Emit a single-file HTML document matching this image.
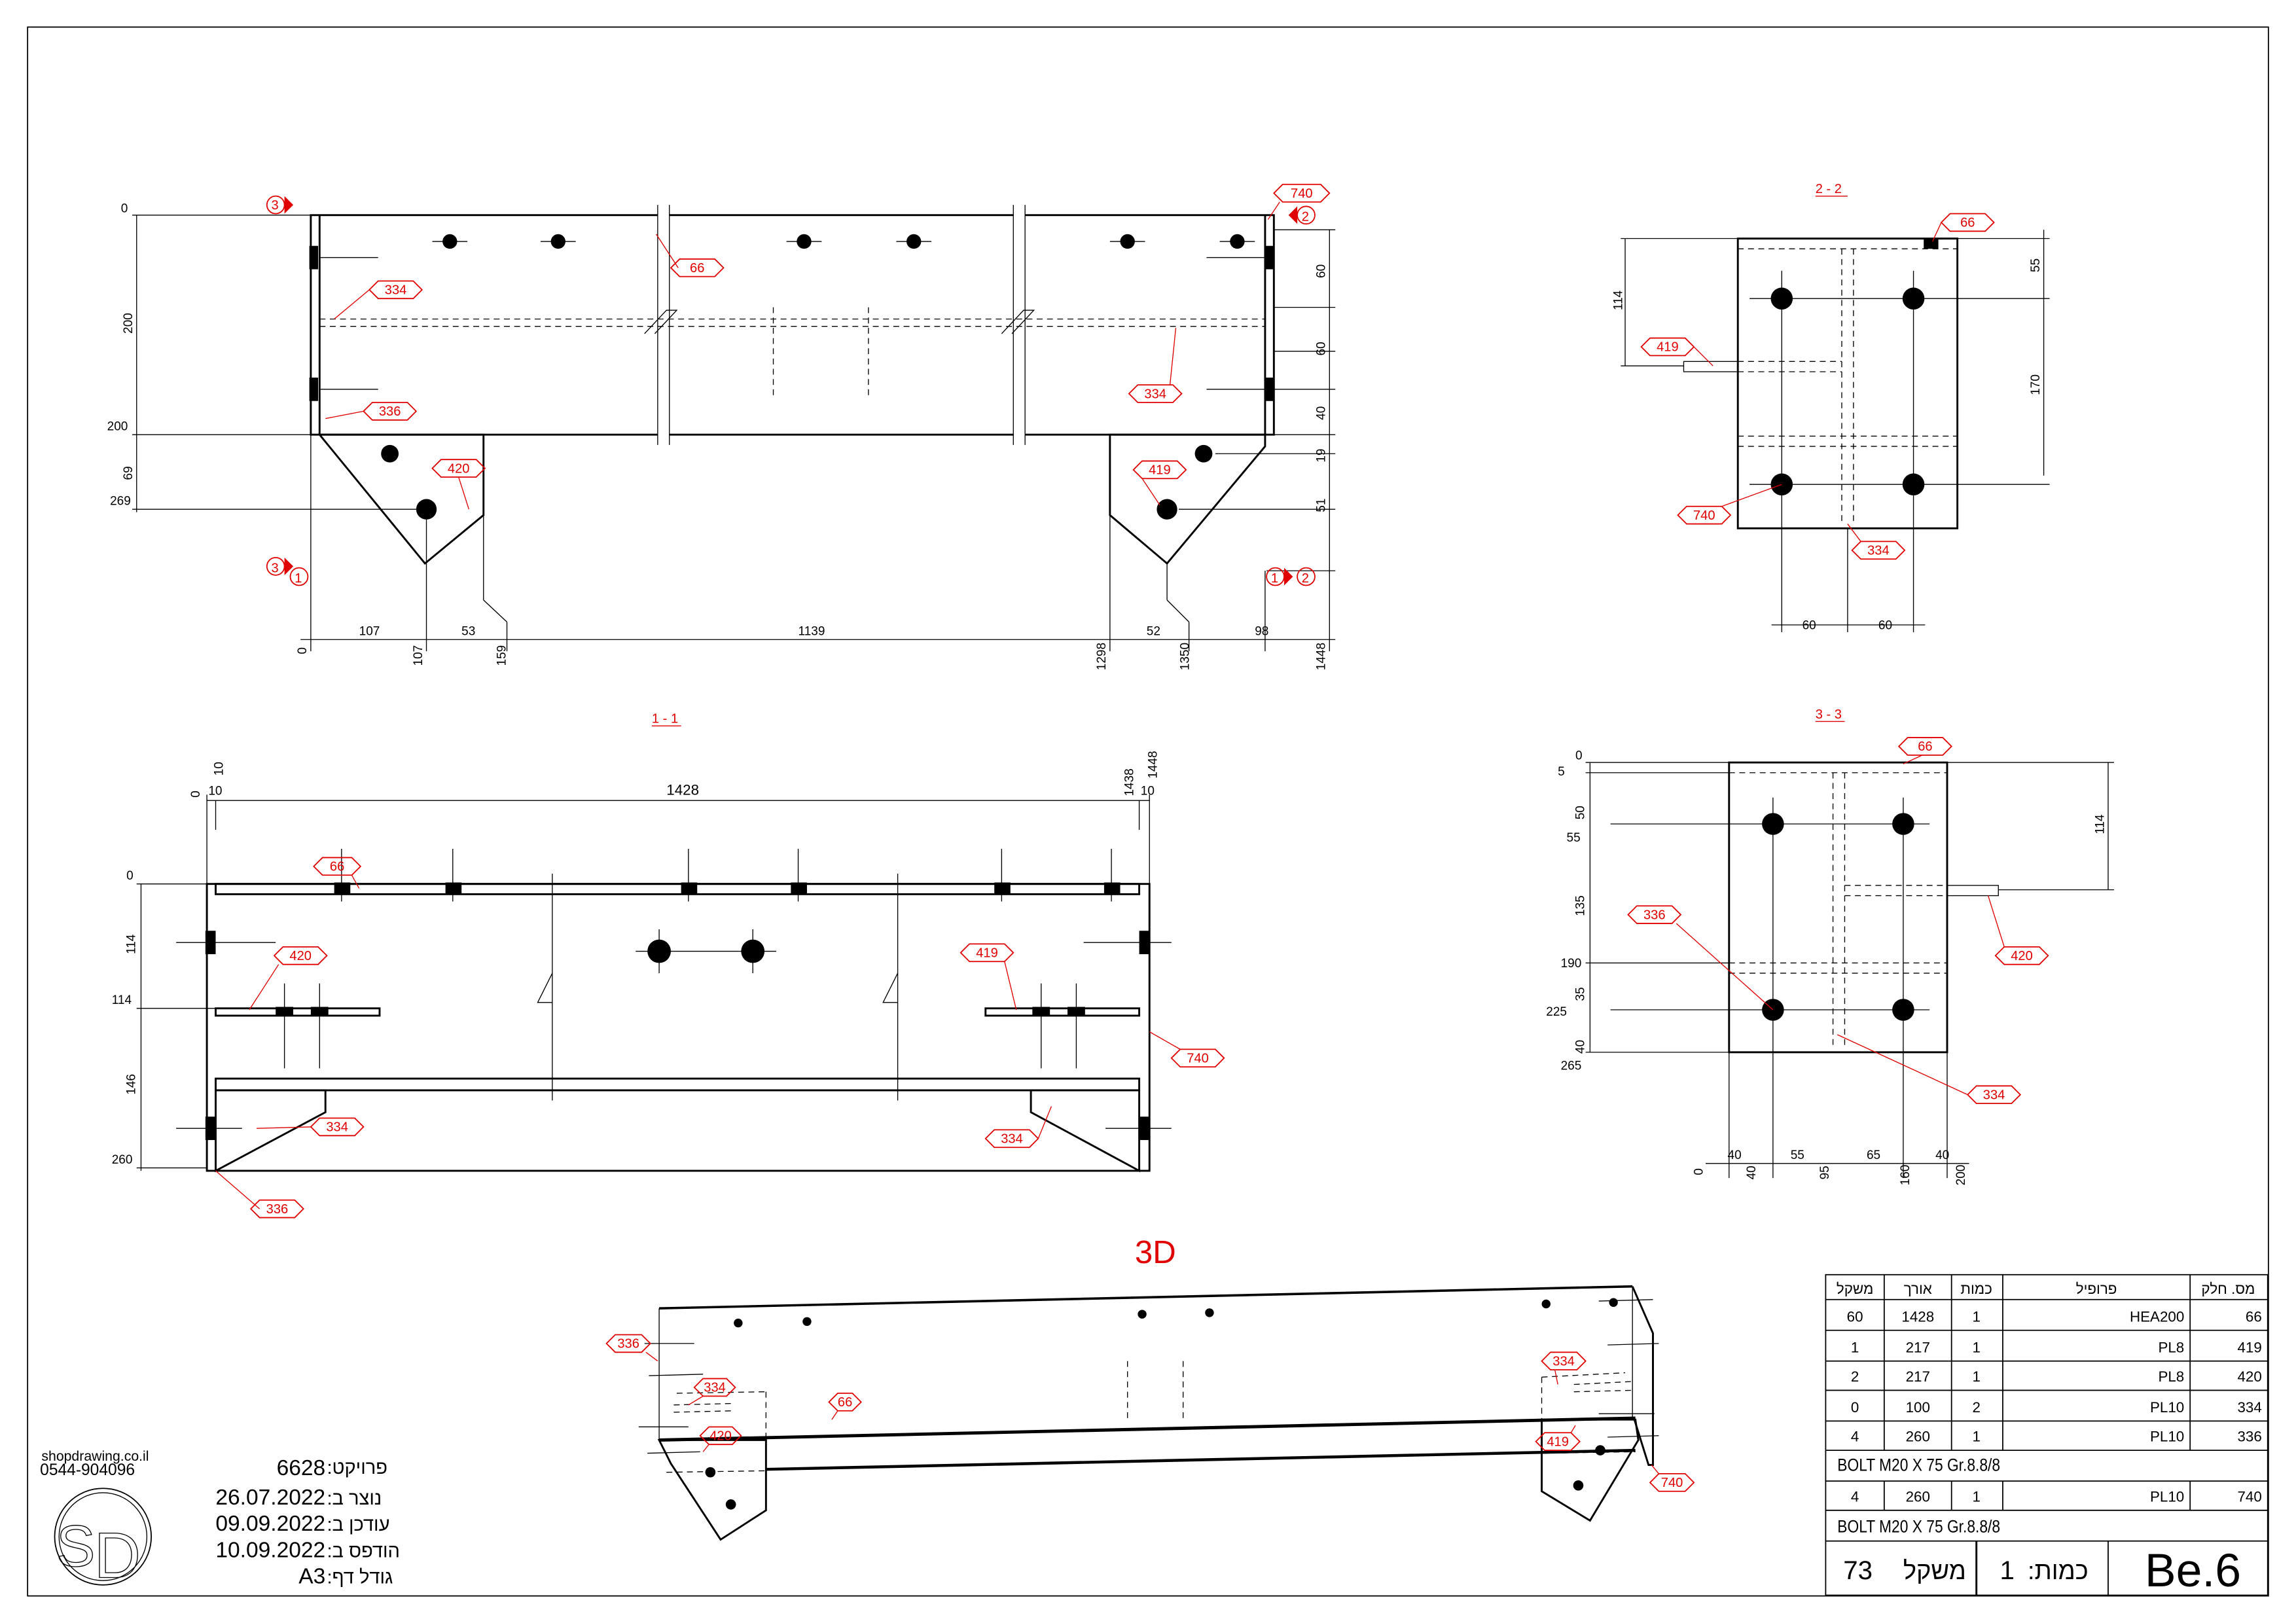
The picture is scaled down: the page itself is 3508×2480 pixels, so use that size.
<!DOCTYPE html>
<html><head><meta charset="utf-8"><style>
html,body{margin:0;padding:0;background:#fff}
svg{display:block}
text{font-family:"Liberation Sans","Noto Sans CJK SC",sans-serif}
.d{font-size:8.5px;fill:#000}
.r{font-size:9px;fill:#e00000}
.t{fill:none;stroke:#e00000;stroke-width:0.8}
.l{stroke:#000;stroke-width:1.3;fill:none}
.th{stroke:#000;stroke-width:0.6;fill:none}
.ds{stroke:#000;stroke-width:0.6;fill:none;stroke-dasharray:4 3}
.rl{stroke:#e00000;stroke-width:0.6;fill:none}
</style></head><body>
<svg width="3508" height="2480" viewBox="0 0 1568 1109" xmlns="http://www.w3.org/2000/svg">
<rect x="18.5" y="18.5" width="1531" height="1072" fill="none" stroke="#000" stroke-width="0.8"/>

<!-- ===== TOP VIEW ===== -->
<g>
<rect x="212" y="147" width="658" height="150" class="l"/>
<line x1="218" y1="147" x2="218" y2="297" class="l"/>
<line x1="864" y1="147" x2="864" y2="297" class="l"/>
<rect x="211" y="168" width="6" height="16" fill="#000"/><rect x="211" y="258" width="6" height="16" fill="#000"/>
<rect x="864" y="168" width="6" height="16" fill="#000"/><rect x="864" y="258" width="6" height="16" fill="#000"/>
<rect x="449" y="140" width="8" height="164" fill="#fff"/><line x1="449" y1="140" x2="449" y2="304" class="th"/><line x1="457" y1="140" x2="457" y2="304" class="th"/>
<rect x="692" y="140" width="8" height="164" fill="#fff"/><line x1="692" y1="140" x2="692" y2="304" class="th"/><line x1="700" y1="140" x2="700" y2="304" class="th"/>
<line x1="218" y1="218" x2="864" y2="218" class="ds"/><line x1="218" y1="223" x2="864" y2="223" class="ds"/>
<polyline points="440,228 455,212 462,212 447,228" class="th"/>
<polyline points="684,228 699,212 706,212 691,228" class="th"/>
<line x1="528" y1="210" x2="528" y2="272" class="ds"/><line x1="593" y1="210" x2="593" y2="272" class="ds"/>
<g fill="#000"><circle cx="307" cy="165" r="5"/><circle cx="381" cy="165" r="5"/><circle cx="549" cy="165" r="5"/><circle cx="624" cy="165" r="5"/><circle cx="770" cy="165" r="5"/><circle cx="845" cy="165" r="5"/></g>
<g class="th"><line x1="295" y1="165" x2="319" y2="165"/><line x1="369" y1="165" x2="393" y2="165"/><line x1="537" y1="165" x2="561" y2="165"/><line x1="612" y1="165" x2="636" y2="165"/><line x1="758" y1="165" x2="782" y2="165"/><line x1="833" y1="165" x2="857" y2="165"/>
<line x1="824" y1="176" x2="864" y2="176"/><line x1="218" y1="176" x2="258" y2="176"/><line x1="218" y1="266" x2="258" y2="266"/><line x1="824" y1="266" x2="864" y2="266"/></g>
<polygon points="218,297 330,297 330,352 290,385" class="l"/>
<polygon points="758,297 864,297 864,305 797,385 758,352" class="l"/>
<g fill="#000"><circle cx="266" cy="310" r="6"/><circle cx="291" cy="348" r="7"/><circle cx="822" cy="310" r="6"/><circle cx="797" cy="348" r="7"/></g>
<!-- dims -->
<g class="th">
<line x1="93" y1="147" x2="93" y2="350"/><line x1="90" y1="147" x2="212" y2="147"/><line x1="90" y1="297" x2="212" y2="297"/><line x1="90" y1="348" x2="291" y2="348"/>
<line x1="205" y1="437" x2="912" y2="437"/>
<line x1="212" y1="297" x2="212" y2="445"/><line x1="291" y1="348" x2="291" y2="445"/><line x1="330" y1="352" x2="330" y2="410"/><line x1="330" y1="410" x2="346" y2="425"/><line x1="346" y1="425" x2="346" y2="445"/>
<line x1="758" y1="352" x2="758" y2="445"/><line x1="797" y1="385" x2="797" y2="410"/><line x1="797" y1="410" x2="812" y2="425"/><line x1="812" y1="425" x2="812" y2="445"/><line x1="864" y1="390" x2="864" y2="445"/><line x1="908" y1="390" x2="908" y2="445"/>
<line x1="908" y1="157" x2="908" y2="392"/>
<line x1="870" y1="157" x2="912" y2="157"/><line x1="870" y1="210" x2="912" y2="210"/><line x1="870" y1="240" x2="912" y2="240"/><line x1="870" y1="266" x2="912" y2="266"/><line x1="870" y1="297" x2="912" y2="297"/><line x1="830" y1="310" x2="912" y2="310"/><line x1="805" y1="348" x2="912" y2="348"/><line x1="865" y1="390" x2="912" y2="390"/>
</g>
<g class="d">
<text x="87" y="145" text-anchor="end">0</text><text transform="translate(90,228) rotate(-90)">200</text>
<text x="87" y="294" text-anchor="end">200</text><text transform="translate(90,328) rotate(-90)">69</text><text x="89" y="345" text-anchor="end">269</text>
<text x="245" y="434">107</text><text x="315" y="434">53</text><text x="545" y="434">1139</text><text x="783" y="434">52</text><text x="857" y="434">98</text>
<text transform="translate(209,447) rotate(-90)">0</text><text transform="translate(288,455) rotate(-90)">107</text><text transform="translate(345,455) rotate(-90)">159</text>
<text transform="translate(755,458) rotate(-90)">1298</text><text transform="translate(812,458) rotate(-90)">1350</text><text transform="translate(905,458) rotate(-90)">1448</text>
<text transform="translate(905,190) rotate(-90)">60</text><text transform="translate(905,243) rotate(-90)">60</text><text transform="translate(905,287) rotate(-90)">40</text><text transform="translate(905,316) rotate(-90)">19</text><text transform="translate(905,350) rotate(-90)">51</text>
</g>
<!-- section marks -->
<g class="r"><text x="185" y="143">3</text><text x="185" y="391">3</text><text x="201" y="398">1</text><text x="868" y="398">1</text><text x="889" y="151">2</text><text x="889" y="398">2</text></g>
<g class="t"><circle cx="188" cy="140" r="6"/><circle cx="188" cy="387" r="6"/><circle cx="204" cy="394" r="6"/><circle cx="871" cy="394" r="6"/><circle cx="892" cy="147" r="6"/><circle cx="892" cy="394" r="6"/></g>
<g fill="#e00000"><polygon points="194,134 200,140 194,146"/><polygon points="194,381 200,387 194,393"/><polygon points="886,141 880,147 886,153"/><polygon points="877,388 883,394 877,400"/></g>
</g>

<!-- ===== SECTION 2-2 ===== -->
<g>
<text x="1240" y="132" class="r">2 - 2</text><line x1="1240" y1="134" x2="1262" y2="134" class="rl"/>
<rect x="1187" y="163" width="150" height="198" class="l"/>
<line x1="1187" y1="170" x2="1337" y2="170" class="ds"/><line x1="1187" y1="298" x2="1337" y2="298" class="ds"/><line x1="1187" y1="305" x2="1337" y2="305" class="ds"/>
<line x1="1258" y1="170" x2="1258" y2="358" class="ds"/><line x1="1266" y1="170" x2="1266" y2="358" class="ds"/>
<line x1="1187" y1="247" x2="1258" y2="247" class="ds"/><line x1="1187" y1="254" x2="1258" y2="254" class="ds"/>
<rect x="1150" y="247" width="37" height="7" class="th"/>
<rect x="1314" y="163" width="10" height="7" fill="#000"/>
<g fill="#000"><circle cx="1217" cy="204" r="7.5"/><circle cx="1307" cy="204" r="7.5"/><circle cx="1217" cy="331" r="7.5"/><circle cx="1307" cy="331" r="7.5"/></g>
<g class="th"><line x1="1195" y1="204" x2="1400" y2="204"/><line x1="1195" y1="331" x2="1400" y2="331"/><line x1="1217" y1="185" x2="1217" y2="432"/><line x1="1307" y1="185" x2="1307" y2="432"/><line x1="1262" y1="361" x2="1262" y2="432"/>
<line x1="1110" y1="163" x2="1110" y2="250"/><line x1="1107" y1="163" x2="1187" y2="163"/><line x1="1107" y1="250" x2="1150" y2="250"/>
<line x1="1396" y1="157" x2="1396" y2="325"/><line x1="1337" y1="163" x2="1400" y2="163"/>
<line x1="1210" y1="427" x2="1315" y2="427"/></g>
<g class="d"><text transform="translate(1108,212) rotate(-90)">114</text><text transform="translate(1393,186) rotate(-90)">55</text><text transform="translate(1393,270) rotate(-90)">170</text><text x="1231" y="430">60</text><text x="1283" y="430">60</text></g>
</g>

<!-- ===== SECTION 1-1 ===== -->
<g>
<text x="445" y="494" class="r">1 - 1</text><line x1="445" y1="496" x2="465" y2="496" class="rl"/>
<rect x="141" y="604" width="644" height="196" class="l"/>
<rect x="147" y="604" width="631" height="7" class="l"/>
<rect x="147" y="737" width="631" height="8" class="l"/>
<rect x="377" y="612" width="236" height="124" fill="#fff"/>
<line x1="377" y1="597" x2="377" y2="752" class="th"/><polyline points="377,665 367,685 377,685" class="th"/>
<line x1="613" y1="597" x2="613" y2="752" class="th"/><polyline points="613,665 603,685 613,685" class="th"/>
<g fill="#000"><rect x="228" y="603" width="11" height="8"/><rect x="304" y="603" width="11" height="8"/><rect x="465" y="603" width="11" height="8"/><rect x="540" y="603" width="11" height="8"/><rect x="679" y="603" width="11" height="8"/><rect x="754" y="603" width="11" height="8"/>
<rect x="140" y="636" width="7" height="16"/><rect x="140" y="763" width="7" height="16"/><rect x="778" y="636" width="7" height="16"/><rect x="778" y="763" width="7" height="16"/>
<circle cx="450" cy="650" r="8"/><circle cx="514" cy="650" r="8"/>
<rect x="188" y="688" width="12" height="6"/><rect x="212" y="688" width="12" height="6"/><rect x="705" y="688" width="12" height="6"/><rect x="729" y="688" width="12" height="6"/></g>
<g class="th"><line x1="233" y1="580" x2="233" y2="616"/><line x1="309" y1="580" x2="309" y2="616"/><line x1="470" y1="580" x2="470" y2="616"/><line x1="545" y1="580" x2="545" y2="616"/><line x1="684" y1="580" x2="684" y2="616"/><line x1="759" y1="580" x2="759" y2="616"/>
<line x1="434" y1="650" x2="530" y2="650"/><line x1="450" y1="635" x2="450" y2="665"/><line x1="514" y1="635" x2="514" y2="665"/>
<line x1="120" y1="644" x2="188" y2="644"/><line x1="120" y1="771" x2="165" y2="771"/><line x1="740" y1="644" x2="800" y2="644"/><line x1="755" y1="771" x2="800" y2="771"/>
<line x1="194" y1="672" x2="194" y2="730"/><line x1="218" y1="672" x2="218" y2="730"/><line x1="711" y1="672" x2="711" y2="730"/><line x1="735" y1="672" x2="735" y2="730"/></g>
<rect x="147" y="689" width="112" height="5" class="l"/>
<rect x="673" y="689" width="105" height="5" class="l"/>
<polygon points="147,745 222,745 222,760 147,800" class="l"/>
<polygon points="704,745 778,745 778,800 704,760" class="l"/>
<!-- dims -->
<g class="th"><line x1="141" y1="547" x2="785" y2="547"/><line x1="141" y1="543" x2="141" y2="604"/><line x1="147" y1="547" x2="147" y2="567"/><line x1="778" y1="547" x2="778" y2="567"/><line x1="785" y1="543" x2="785" y2="604"/>
<line x1="96" y1="604" x2="96" y2="800"/><line x1="93" y1="604" x2="141" y2="604"/><line x1="93" y1="689" x2="147" y2="689"/><line x1="93" y1="798" x2="141" y2="798"/></g>
<g class="d"><text transform="translate(136,545) rotate(-90)">0</text><text transform="translate(152,530) rotate(-90)">10</text><text x="142" y="543">10</text><text x="455" y="543" font-size="10">1428</text>
<text transform="translate(774,544) rotate(-90)">1438</text><text transform="translate(790,532) rotate(-90)">1448</text><text x="779" y="543">10</text>
<text x="86" y="601">0</text><text transform="translate(92,652) rotate(-90)">114</text><text x="76" y="686">114</text><text transform="translate(92,748) rotate(-90)">146</text><text x="76" y="795">260</text></g>
</g>

<!-- ===== SECTION 3-3 ===== -->
<g>
<text x="1240" y="491" class="r">3 - 3</text><line x1="1240" y1="493" x2="1260" y2="493" class="rl"/>
<rect x="1181" y="521" width="149" height="198" class="l"/>
<line x1="1181" y1="528" x2="1330" y2="528" class="ds"/><line x1="1181" y1="658" x2="1330" y2="658" class="ds"/><line x1="1181" y1="665" x2="1330" y2="665" class="ds"/>
<line x1="1252" y1="528" x2="1252" y2="716" class="ds"/><line x1="1260" y1="528" x2="1260" y2="716" class="ds"/>
<line x1="1260" y1="605" x2="1330" y2="605" class="ds"/><line x1="1260" y1="612" x2="1330" y2="612" class="ds"/>
<rect x="1330" y="605" width="35" height="7" class="th"/>
<g fill="#000"><circle cx="1211" cy="563" r="7.5"/><circle cx="1300" cy="563" r="7.5"/><circle cx="1211" cy="690" r="7.5"/><circle cx="1300" cy="690" r="7.5"/></g>
<g class="th"><line x1="1100" y1="563" x2="1318" y2="563"/><line x1="1100" y1="690" x2="1318" y2="690"/><line x1="1211" y1="545" x2="1211" y2="805"/><line x1="1300" y1="545" x2="1300" y2="805"/>
<line x1="1181" y1="719" x2="1181" y2="805"/><line x1="1330" y1="719" x2="1330" y2="805"/>
<line x1="1086" y1="521" x2="1086" y2="719"/><line x1="1083" y1="521" x2="1181" y2="521"/><line x1="1083" y1="528" x2="1181" y2="528"/><line x1="1083" y1="658" x2="1181" y2="658"/><line x1="1083" y1="719" x2="1181" y2="719"/>
<line x1="1440" y1="521" x2="1440" y2="608"/><line x1="1330" y1="521" x2="1444" y2="521"/><line x1="1365" y1="608" x2="1444" y2="608"/>
<line x1="1165" y1="795" x2="1345" y2="795"/></g>
<g class="d"><text x="1076" y="519">0</text><text x="1064" y="530">5</text><text transform="translate(1082,560) rotate(-90)">50</text><text x="1070" y="575">55</text><text transform="translate(1082,626) rotate(-90)">135</text><text x="1066" y="661">190</text><text transform="translate(1082,684) rotate(-90)">35</text><text x="1056" y="694">225</text><text transform="translate(1082,720) rotate(-90)">40</text><text x="1066" y="731">265</text>
<text transform="translate(1437,570) rotate(-90)">114</text>
<text x="1180" y="792">40</text><text x="1223" y="792">55</text><text x="1275" y="792">65</text><text x="1322" y="792">40</text>
<text transform="translate(1163,803) rotate(-90)">0</text><text transform="translate(1199,806) rotate(-90)">40</text><text transform="translate(1249,806) rotate(-90)">95</text><text transform="translate(1304,810) rotate(-90)">160</text><text transform="translate(1342,810) rotate(-90)">200</text></g>
</g>

<!-- ===== 3D ===== -->
<g>
<text x="775" y="863" font-size="22" fill="#e00000">3D</text>
<line x1="450" y1="894" x2="1115" y2="879" stroke="#000" stroke-width="1.6"/>
<line x1="450" y1="894" x2="450" y2="984" class="th"/>
<line x1="1115" y1="879" x2="1115" y2="969" class="th"/>
<line x1="450" y1="984" x2="1117" y2="969" stroke="#000" stroke-width="2.2"/>
<line x1="523" y1="1004" x2="1117" y2="991" stroke="#000" stroke-width="2"/>
<polyline points="1115,879 1129,911 1129,1001 1126,1001 1116,969" class="l"/>
<polygon points="450,984 523,984 523,1032 492,1052 458,1000" class="l"/>
<polygon points="1053,970 1053,1019 1086,1039 1119,984 1117,970" class="l"/>
<g class="ds"><line x1="462" y1="952" x2="523" y2="951"/><line x1="523" y1="951" x2="523" y2="984"/><line x1="1053" y1="941" x2="1110" y2="938"/><line x1="1053" y1="941" x2="1053" y2="970"/><line x1="770" y1="930" x2="770" y2="970"/><line x1="808" y1="930" x2="808" y2="970"/>
<line x1="460" y1="960" x2="500" y2="959"/><line x1="460" y1="965" x2="500" y2="964"/><line x1="1075" y1="946" x2="1115" y2="944"/><line x1="1075" y1="951" x2="1115" y2="950"/>
<line x1="455" y1="1006" x2="523" y2="1005"/><line x1="1053" y1="993" x2="1117" y2="992"/></g>
<g class="th"><line x1="440" y1="918" x2="474" y2="918"/><line x1="443" y1="940" x2="480" y2="939"/><line x1="436" y1="975" x2="470" y2="975"/><line x1="442" y1="993" x2="478" y2="992"/>
<line x1="1092" y1="889" x2="1129" y2="888"/><line x1="1098" y1="919" x2="1133" y2="918"/><line x1="1092" y1="966" x2="1130" y2="966"/><line x1="1098" y1="982" x2="1133" y2="981"/></g>
<g fill="#000"><circle cx="504" cy="904" r="3"/><circle cx="551" cy="903" r="3"/><circle cx="780" cy="898" r="3"/><circle cx="826" cy="897" r="3"/><circle cx="1056" cy="891" r="3"/><circle cx="1102" cy="890" r="3"/><circle cx="485" cy="1006" r="3.5"/><circle cx="499" cy="1028" r="3.5"/><circle cx="1093" cy="991" r="3.5"/><circle cx="1078" cy="1015" r="3.5"/></g>
</g>

<!-- ===== RED TAGS ===== -->
<g class="t">
<polygon points="870,132 876,126 902,126 908,132 902,138 876,138"/>
<polygon points="458,183 464,177 488,177 494,183 488,189 464,189"/>
<polygon points="252,198 258,192 282,192 288,198 282,204 258,204"/>
<polygon points="248,281 254,275 278,275 284,281 278,287 254,287"/>
<polygon points="295,320 301,314 325,314 331,320 325,326 301,326"/>
<polygon points="771,269 777,263 801,263 807,269 801,275 777,275"/>
<polygon points="774,321 780,315 804,315 810,321 804,327 780,327"/>
<polygon points="1326,152 1332,146 1356,146 1362,152 1356,158 1332,158"/>
<polygon points="1121,237 1127,231 1151,231 1157,237 1151,243 1127,243"/>
<polygon points="1146,352 1152,346 1176,346 1182,352 1176,358 1152,358"/>
<polygon points="1265,376 1271,370 1295,370 1301,376 1295,382 1271,382"/>
<polygon points="214,592 220,586 240,586 246,592 240,598 220,598"/>
<polygon points="187,653 193,647 217,647 223,653 217,659 193,659"/>
<polygon points="656,651 662,645 686,645 692,651 686,657 662,657"/>
<polygon points="800,723 806,717 830,717 836,723 830,729 806,729"/>
<polygon points="212,770 218,764 242,764 248,770 242,776 218,776"/>
<polygon points="673,778 679,772 703,772 709,778 703,784 679,784"/>
<polygon points="171,826 177,820 201,820 207,826 201,832 177,832"/>
<polygon points="1297,510 1303,504 1327,504 1333,510 1327,516 1303,516"/>
<polygon points="1112,625 1118,619 1142,619 1148,625 1142,631 1118,631"/>
<polygon points="1363,653 1369,647 1393,647 1399,653 1393,659 1369,659"/>
<polygon points="1344,748 1350,742 1374,742 1380,748 1374,754 1350,754"/>
<polygon points="414,918 420,912 438,912 444,918 438,924 420,924"/>
<polygon points="474,948 480,942 496,942 502,948 496,954 480,954"/>
<polygon points="566,958 572,952 582,952 588,958 582,964 572,964"/>
<polygon points="478,981 484,975 500,975 506,981 500,987 484,987"/>
<polygon points="1053,930 1059,924 1077,924 1083,930 1077,936 1059,936"/>
<polygon points="1049,985 1055,979 1073,979 1079,985 1073,991 1055,991"/>
<polygon points="1127,1013 1133,1007 1151,1007 1157,1013 1151,1019 1133,1019"/>
</g>
<g class="rl">
<line x1="874" y1="138" x2="866" y2="150"/><line x1="463" y1="183" x2="448" y2="160"/><line x1="252" y1="198" x2="228" y2="218"/><line x1="248" y1="281" x2="222" y2="286"/><line x1="313" y1="326" x2="320" y2="348"/><line x1="799" y1="263" x2="803" y2="224"/><line x1="780" y1="327" x2="792" y2="345"/>
<line x1="1326" y1="152" x2="1320" y2="165"/><line x1="1157" y1="237" x2="1170" y2="250"/><line x1="1176" y1="346" x2="1217" y2="331"/><line x1="1271" y1="370" x2="1262" y2="358"/>
<line x1="240" y1="598" x2="245" y2="607"/><line x1="190" y1="659" x2="170" y2="690"/><line x1="686" y1="657" x2="694" y2="690"/><line x1="806" y1="717" x2="785" y2="705"/><line x1="212" y1="770" x2="175" y2="771"/><line x1="709" y1="778" x2="718" y2="756"/><line x1="177" y1="826" x2="147" y2="800"/>
<line x1="1313" y1="516" x2="1300" y2="522"/><line x1="1145" y1="631" x2="1211" y2="690"/><line x1="1369" y1="647" x2="1358" y2="612"/><line x1="1344" y1="748" x2="1255" y2="707"/>
<line x1="441" y1="924" x2="449" y2="930"/><line x1="480" y1="954" x2="470" y2="960"/><line x1="572" y1="964" x2="568" y2="970"/><line x1="484" y1="987" x2="480" y2="992"/><line x1="1062" y1="936" x2="1064" y2="946"/><line x1="1073" y1="979" x2="1076" y2="974"/><line x1="1133" y1="1007" x2="1128" y2="1001"/>
</g>
<g class="r" text-anchor="middle">
<text x="889" y="135">740</text><text x="476" y="186">66</text><text x="270" y="201">334</text><text x="266" y="284">336</text><text x="313" y="323">420</text><text x="789" y="272">334</text><text x="792" y="324">419</text>
<text x="1344" y="155">66</text><text x="1139" y="240">419</text><text x="1164" y="355">740</text><text x="1283" y="379">334</text>
<text x="230" y="595">66</text><text x="205" y="656">420</text><text x="674" y="654">419</text><text x="818" y="726">740</text><text x="230" y="773">334</text><text x="691" y="781">334</text><text x="189" y="829">336</text>
<text x="1315" y="513">66</text><text x="1130" y="628">336</text><text x="1381" y="656">420</text><text x="1362" y="751">334</text>
<text x="429" y="921">336</text><text x="488" y="951">334</text><text x="577" y="961">66</text><text x="492" y="984">420</text><text x="1068" y="933">334</text><text x="1064" y="988">419</text><text x="1142" y="1016">740</text>
</g>

<!-- ===== TABLE ===== -->
<g stroke="#000" stroke-width="0.8" fill="none">
<rect x="1247" y="871" width="302" height="219"/>
<line x1="1247" y1="888" x2="1549" y2="888"/><line x1="1247" y1="909" x2="1549" y2="909"/><line x1="1247" y1="930" x2="1549" y2="930"/><line x1="1247" y1="950" x2="1549" y2="950"/><line x1="1247" y1="971" x2="1549" y2="971"/><line x1="1247" y1="991" x2="1549" y2="991"/><line x1="1247" y1="1012" x2="1549" y2="1012"/><line x1="1247" y1="1032" x2="1549" y2="1032"/><line x1="1247" y1="1053" x2="1549" y2="1053"/>
<line x1="1287" y1="871" x2="1287" y2="991"/><line x1="1333" y1="871" x2="1333" y2="991"/><line x1="1368" y1="871" x2="1368" y2="991"/><line x1="1496" y1="871" x2="1496" y2="991"/>
<line x1="1287" y1="1012" x2="1287" y2="1032"/><line x1="1333" y1="1012" x2="1333" y2="1032"/><line x1="1368" y1="1012" x2="1368" y2="1032"/><line x1="1496" y1="1012" x2="1496" y2="1032"/>
<line x1="1350" y1="1053" x2="1350" y2="1090" stroke-width="1.3"/><line x1="1440" y1="1053" x2="1440" y2="1090"/>
</g>
<g font-size="10" fill="#000" font-family="Liberation Sans, 'Noto Sans CJK SC', sans-serif">
<g text-anchor="middle"><text x="1267" y="884">משקל</text><text x="1310" y="884">אורך</text><text x="1350" y="884">כמות</text><text x="1432" y="884">פרופיל</text><text x="1522" y="884">מס. חלק</text></g>
<g text-anchor="middle"><text x="1267" y="903">60</text><text x="1310" y="903">1428</text><text x="1350" y="903">1</text>
<text x="1267" y="924">1</text><text x="1310" y="924">217</text><text x="1350" y="924">1</text>
<text x="1267" y="944">2</text><text x="1310" y="944">217</text><text x="1350" y="944">1</text>
<text x="1267" y="965">0</text><text x="1310" y="965">100</text><text x="1350" y="965">2</text>
<text x="1267" y="985">4</text><text x="1310" y="985">260</text><text x="1350" y="985">1</text>
<text x="1267" y="1026">4</text><text x="1310" y="1026">260</text><text x="1350" y="1026">1</text></g>
<g text-anchor="end"><text x="1492" y="903">HEA200</text><text x="1545" y="903">66</text><text x="1492" y="924">PL8</text><text x="1545" y="924">419</text><text x="1492" y="944">PL8</text><text x="1545" y="944">420</text><text x="1492" y="965">PL10</text><text x="1545" y="965">334</text><text x="1492" y="985">PL10</text><text x="1545" y="985">336</text><text x="1492" y="1026">PL10</text><text x="1545" y="1026">740</text></g>
<text x="1255" y="1005" transform="translate(1255,0) scale(0.85,1) translate(-1255,0)" font-size="12">BOLT M20 X 75 Gr.8.8/8</text>
<text x="1255" y="1047" transform="translate(1255,0) scale(0.85,1) translate(-1255,0)" font-size="12">BOLT M20 X 75 Gr.8.8/8</text>
<text x="1259" y="1079" font-size="18">73</text><text x="1300" y="1079" font-size="17">משקל</text>
<text x="1366" y="1079" font-size="18">1</text><text x="1385" y="1079" font-size="17">:כמות</text>
<text x="1465" y="1084" font-size="32">Be.6</text>
</g>

<!-- ===== TITLE BLOCK ===== -->
<g fill="#000">
<text x="28" y="998" font-size="9.5">shopdrawing.co.il</text>
<text x="27" y="1008" font-size="11">0544-904096</text>
<circle cx="70" cy="1050" r="33" fill="none" stroke="#000" stroke-width="0.8"/>
<circle cx="70" cy="1050" r="30" fill="none" stroke="#000" stroke-width="0.6"/>
<text x="38" y="1070" font-size="40" font-family="Liberation Serif, serif" fill="none" stroke="#000" stroke-width="0.6">S</text>
<text x="64" y="1078" font-size="44" font-family="Liberation Serif, serif" fill="none" stroke="#000" stroke-width="0.6">D</text>
<g font-size="15" text-anchor="end">
<text x="222" y="1008">6628</text><text x="222" y="1028">26.07.2022</text><text x="222" y="1046">09.09.2022</text><text x="222" y="1064">10.09.2022</text><text x="222" y="1082">A3</text></g>
<g font-size="13"><text x="223" y="1007">:פרויקט</text><text x="223" y="1028">:נוצר ב</text><text x="223" y="1046">:עודכן ב</text><text x="223" y="1064">:הודפס ב</text><text x="223" y="1082">:גודל דף</text></g>
</g>
</svg>
</body></html>
